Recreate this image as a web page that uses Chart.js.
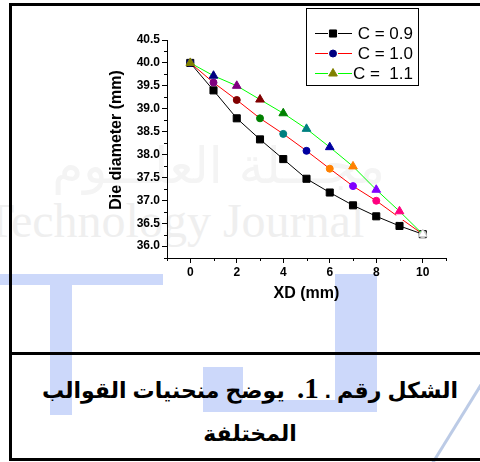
<!DOCTYPE html>
<html>
<head>
<meta charset="utf-8">
<script src="https://cdn.jsdelivr.net/npm/chart.js@4.4.1/dist/chart.umd.min.js"></script>
<style>
  html, body { margin: 0; padding: 0; background: #fff; }
  #wrap { position: relative; width: 480px; height: 462px; overflow: hidden; background: #fff; }
  #wm { position: absolute; left: 0; top: 0; }
  #frame { position: absolute; left: 9px; top: 3px; width: 520px; height: 452px; border: 3px solid #000; }
  #sep { position: absolute; left: 9px; top: 352px; width: 520px; height: 3px; background: #000; }
  #chart { position: absolute; left: 0; top: 0; }
  .cap { position: absolute; left: 10px; width: 480px; text-align: center; direction: rtl;
         font-family: Arial, "DejaVu Sans", sans-serif; font-weight: bold; font-size: 22px; color: #000; line-height: 46px; }
  .num { font-family: "Liberation Serif", "Times New Roman", serif; font-size: 29px; }
</style>
</head>
<body>
<div id="wrap">
  <!-- الخلفية: شعار المجلة الباهت -->
  <svg id="wm" width="480" height="462">
    <rect x="-5" y="274" width="168" height="11" fill="#ccd8fa"/>
    <rect x="50" y="285" width="22" height="130" fill="#ccd8fa"/>
    <rect x="335" y="274" width="42" height="138" fill="#ccd8fa"/>
    <rect x="203" y="367" width="40" height="45" fill="#ccd8fa"/>
    <rect x="203" y="400" width="174" height="12" rx="4" fill="#ccd8fa"/>
    <line x1="484" y1="380" x2="432" y2="464" stroke="#bccbe6" stroke-width="3"/>
    <text x="385" y="183" text-anchor="end" font-family="DejaVu Sans" font-size="50" fill="#f4f4f4">مجـــلة العلـــوم</text>
    <text x="-15" y="237" font-family="Liberation Serif" font-size="48" fill="#efefef">Technology Journal</text>
  </svg>
  <div id="frame"></div>
  <div id="sep"></div>
  <canvas id="chart" width="480" height="352"></canvas>
  <div class="cap" style="top:365px;">الشكل رقم . <span class="num">1.</span>&nbsp; يوضح منحنيات القوالب</div>
  <div class="cap" style="top:411px;">المختلفة</div>
</div>
<script>
// قيم المنحنيات مقروءة من الشكل
const xValues = [0, 1, 2, 3, 4, 5, 6, 7, 8, 9, 10];
const c09 = [40.0, 39.40, 38.79, 38.33, 37.90, 37.47, 37.17, 36.89, 36.65, 36.44, 36.26];
const c10 = [40.0, 39.57, 39.19, 38.79, 38.45, 38.08, 37.69, 37.31, 36.99, 36.62, 36.26];
const c11 = [40.0, 39.72, 39.50, 39.20, 38.90, 38.56, 38.16, 37.74, 37.23, 36.76, 36.26];
const seriesLabels = ['C = 0.9', 'C = 1.0', 'C =  1.1'];
const yTitle = 'Die diameter (mm)';

// تدريجات المحاور
const xTicks = [0, 2, 4, 6, 8, 10];
const xMinorTicks = [-1, 1, 3, 5, 7, 9, 11];
const yTicks = [36.0, 36.5, 37.0, 37.5, 38.0, 38.5, 39.0, 39.5, 40.0, 40.5];
const yMinorTicks = [35.75, 36.25, 36.75, 37.25, 37.75, 38.25, 38.75, 39.25, 39.75, 40.25];

// ألوان العلامات على طريقة Origin (لون مختلف لكل نقطة)
const redMarks = ['#000080', '#800080', '#800000', '#008000', '#008080', '#0000a0', '#ff8000', '#8000ff', '#ff0080', '#ffffff', '#ffffff'];
const greenMarks = ['#808000', '#000080', '#800080', '#800000', '#008000', '#008080', '#0000a0', '#ff8000', '#8000ff', '#ff0080', '#ffffff'];
const blackMarks = xValues.map(() => '#000000');
const edge = c => (c === '#ffffff' ? '#c8c8c8' : c);

const toPoints = arr => xValues.map((x, i) => ({ x: x, y: arr[i] }));

// تدريجات ثانوية قصيرة + عنوان المحور الصادي
const minorTicks = {
    id: 'minorTicks',
    afterDraw(chart) {
        const { ctx, chartArea, scales } = chart;
        ctx.save();
        ctx.strokeStyle = '#000';
        ctx.lineWidth = 1;
        ctx.beginPath();
        xMinorTicks.forEach(v => {
            const px = Math.round(scales.x.getPixelForValue(v)) + 0.5;
            ctx.moveTo(px, chartArea.bottom);
            ctx.lineTo(px, chartArea.bottom + 3);
        });
        yMinorTicks.forEach(v => {
            const py = Math.round(scales.y.getPixelForValue(v)) + 0.5;
            ctx.moveTo(chartArea.left, py);
            ctx.lineTo(chartArea.left - 3, py);
        });
        ctx.stroke();

        ctx.translate(117, 140);
        ctx.rotate(-Math.PI / 2);
        ctx.fillStyle = '#000';
        ctx.font = 'bold 16px Arial';
        ctx.textAlign = 'center';
        ctx.textBaseline = 'middle';
        ctx.fillText(yTitle, 0, 0);
        ctx.restore();
    }
};

// مفتاح الرسم داخل إطار
const legendBox = {
    id: 'legendBox',
    afterDraw(chart) {
        const ctx = chart.ctx;
        ctx.save();
        ctx.strokeStyle = '#000';
        ctx.lineWidth = 1;
        ctx.strokeRect(306.5, 8.5, 112, 77);
        chart.data.datasets.forEach((ds, i) => {
            const y = 33.5 + i * 20;
            ctx.strokeStyle = ds.borderColor;
            ctx.lineWidth = 1;
            ctx.beginPath();
            ctx.moveTo(315, y); ctx.lineTo(328, y);
            ctx.moveTo(338, y); ctx.lineTo(352, y);
            ctx.stroke();
            ctx.fillStyle = ds.pointBackgroundColor[0];
            ctx.strokeStyle = ds.pointBorderColor[0];
            Chart.helpers.drawPoint(ctx, { pointStyle: ds.pointStyle, radius: ds.pointRadius, borderWidth: 1, rotation: 0 }, 333, y);
            ctx.fillStyle = '#000';
            ctx.font = '17px Arial';
            ctx.textAlign = 'right';
            ctx.textBaseline = 'middle';
            ctx.fillText(ds.label, 413, y + 1);
        });
        ctx.restore();
    }
};

const tickFont = { family: 'Arial', size: 12, weight: 'bold' };
const titleFont = { family: 'Arial', size: 16, weight: 'bold' };

new Chart(document.getElementById('chart').getContext('2d'), {
    type: 'line',
    data: {
        datasets: [
            { label: seriesLabels[0], data: toPoints(c09), borderColor: '#000000', borderWidth: 1, pointStyle: 'rect', pointRadius: 5,
              pointBackgroundColor: blackMarks, pointBorderColor: blackMarks, pointBorderWidth: 1, order: 2 },
            { label: seriesLabels[1], data: toPoints(c10), borderColor: '#ff0000', borderWidth: 1, pointStyle: 'circle', pointRadius: 3.5,
              pointBackgroundColor: redMarks, pointBorderColor: redMarks.map((c, i) => (i === 10 ? edge(c) : c)), pointBorderWidth: 1, order: 1 },
            { label: seriesLabels[2], data: toPoints(c11), borderColor: '#00ff00', borderWidth: 1, pointStyle: 'triangle', pointRadius: 5,
              pointBackgroundColor: greenMarks, pointBorderColor: greenMarks.map(edge), pointBorderWidth: 1, order: 0 }
        ]
    },
    options: {
        responsive: false,
        animation: false,
        layout: { padding: { left: 107, top: 40, right: 34, bottom: 49 } },
        plugins: { legend: { display: false }, tooltip: { enabled: false } },
        scales: {
            x: {
                type: 'linear', min: -1, max: 11,
                afterBuildTicks: s => { s.ticks = xTicks.map(v => ({ value: v })); },
                afterFit: s => { s.height = 45; },
                grid: { drawOnChartArea: false, tickLength: 5, color: '#000' },
                border: { color: '#000', width: 1 },
                ticks: { color: '#000', font: tickFont, padding: 2, maxRotation: 0, callback: v => String(v) },
                title: { display: true, text: 'XD (mm)', color: '#000', font: titleFont, padding: 0 }
            },
            y: {
                type: 'linear', min: 35.74, max: 40.5,
                afterBuildTicks: s => { s.ticks = yTicks.map(v => ({ value: v })); },
                afterFit: s => { s.width = 60; },
                grid: { drawOnChartArea: false, tickLength: 5, color: '#000' },
                border: { color: '#000', width: 1 },
                ticks: { color: '#000', font: tickFont, padding: 2, callback: v => Number(v).toFixed(1) },
                title: { display: false }
            }
        }
    },
    plugins: [minorTicks, legendBox]
});
</script>
</body>
</html>
